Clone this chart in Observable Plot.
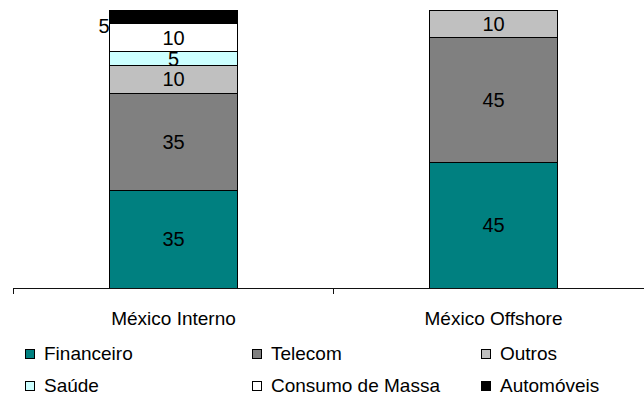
<!DOCTYPE html>
<html>
<head>
<meta charset="utf-8">
<script src="https://cdn.jsdelivr.net/npm/d3@7"></script>
<script src="https://cdn.jsdelivr.net/npm/@observablehq/plot@0.6"></script>
<style>
  html, body { margin: 0; padding: 0; background: #fff; }
  body { font-family: "Liberation Sans", Arial, sans-serif; width: 644px; }
  #legend { display: grid; grid-template-columns: 227px 229px auto; grid-auto-rows: 32px; padding: 3px 0 0 25px; }
  .item { display: flex; align-items: center; font-size: 19px; color: #000; }
  .sw { width: 8px; height: 8px; border: 1px solid #000; margin-right: 9px; flex: none; }
</style>
</head>
<body>
<div id="chart"></div>
<div id="legend"></div>
<script>
const categories = ["México Interno", "México Offshore"];
const sectors = ["Financeiro", "Telecom", "Outros", "Saúde", "Consumo de Massa", "Automóveis"];
const colors = ["#008080", "#808080", "#C0C0C0", "#CCFFFF", "#FFFFFF", "#000000"];
const interno = [35, 35, 10, 5, 10, 5];
const offshore = [45, 45, 10, 0, 0, 0];

const series = [interno, offshore];
const data = categories.flatMap((c, i) =>
  sectors.map((s, j) => ({cat: c, sector: s, value: series[i][j]}))
).filter(d => d.value > 0);

const outside = "Automóveis";

const marks = [
  Plot.barY(data, Plot.stackY({x: "cat", y: "value", fill: "sector", z: "sector", order: sectors,
    stroke: "#000", strokeWidth: 1, shapeRendering: "crispEdges"})),
  Plot.text(data, Plot.stackY({x: "cat", y: "value", z: "sector", order: sectors,
    text: d => d.sector === outside ? null : String(d.value), fontSize: 20, fill: "#000"})),
  Plot.text(data, Plot.stackY({x: "cat", y: "value", z: "sector", order: sectors,
    text: d => d.sector === outside ? String(d.value) : null, textAnchor: "end",
    dx: -64, dy: 9, fontSize: 20, fill: "#000"})),
  Plot.ruleY([0], {stroke: "#111", strokeWidth: 1, shapeRendering: "crispEdges"}),
  Plot.axisX({tickSize: 6, tickFormat: () => "", dx: -160, stroke: "#111", label: null}),
  Plot.text(categories, {x: d => d, frameAnchor: "bottom", lineAnchor: "middle", dy: 30, fontSize: 19, fill: "#000"})
];

const chart = Plot.plot({
  width: 644,
  height: 335,
  marginTop: 10,
  marginBottom: 47,
  marginLeft: 13,
  marginRight: 0,
  style: {fontFamily: "'Liberation Sans', Arial, sans-serif", background: "#fff", overflow: "visible"},
  x: {domain: categories, range: [13, 653], paddingInner: 0.6, paddingOuter: 0.3, label: null},
  y: {domain: [0, 100], axis: null},
  color: {domain: sectors, range: colors},
  marks
});
document.getElementById("chart").appendChild(chart);

const legend = document.getElementById("legend");
sectors.forEach((s, i) => {
  const item = document.createElement("div");
  item.className = "item";
  const sw = document.createElement("span");
  sw.className = "sw";
  sw.style.background = colors[i];
  item.appendChild(sw);
  item.appendChild(document.createTextNode(s));
  legend.appendChild(item);
});
</script>
</body>
</html>
